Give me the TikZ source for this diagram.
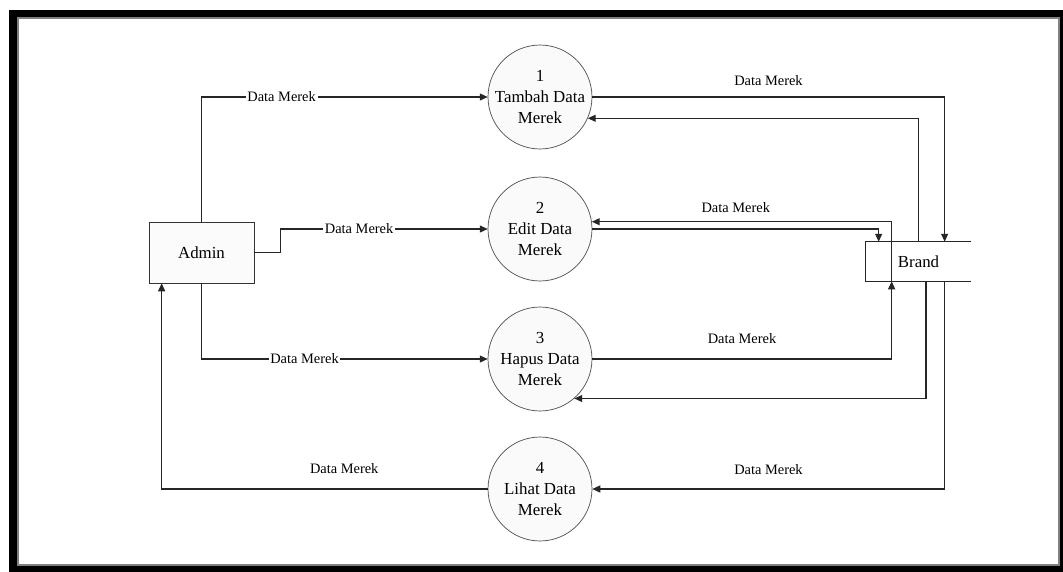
\documentclass[tikz,border=0pt]{standalone}
\usepackage{fontspec}
\setmainfont{Liberation Serif}
\usetikzlibrary{arrows.meta}

\begin{document}
\begin{tikzpicture}[x=0.02cm, y=-0.02cm,
    proc/.style={circle, draw=black!70, fill=gray!4, minimum size=2.08cm, inner sep=-2pt, align=center, font=\fontsize{9.6}{11.9}\selectfont},
    ent/.style={rectangle, draw=black!80, fill=gray!3, minimum width=2.1cm, minimum height=1.22cm, font=\fontsize{9.6}{11.9}\selectfont},
    store/.style={minimum width=2.1cm, minimum height=0.78cm, font=\fontsize{9.6}{11.9}\selectfont},
    flow/.style={draw=black!85, line width=0.6pt, -{Triangle[length=4.5pt, width=4pt]}},
    lbl/.style={font=\fontsize{8.2}{10}\selectfont, inner sep=1pt}]
    \useasboundingbox (0,0) rectangle (1063,572);
    \fill[black] (9,10) rectangle (1063,572);
    \fill[white] (17,17) rectangle (1060,566);
    \draw[gray, line width=1pt] (18,18) rectangle (1059,565);

    \node[ent] (admin) at (201.5,252.5) {Admin};
    \node[proc] (P1) at (540,97) {1\\Tambah Data\\Merek};
    \node[proc] (P2) at (540,229) {2\\Edit Data\\Merek};
    \node[proc] (P3) at (540,359) {3\\Hapus Data\\Merek};
    \node[proc] (P4) at (540,489) {4\\Lihat Data\\Merek};
    \node[store] (brand) at (918.5,261.5) {Brand};
    \draw[black!85, line width=0.6pt] (brand.north east) -- (brand.north west) -- (brand.south west) -- (brand.south east);

    % Draw the flows
    \draw[flow] (admin.north) |- node[lbl, fill=white, pos=0.64] {Data Merek} (P1.west);
    \draw[flow] (admin.east) -- ++(26,0) |- node[lbl, fill=white, pos=0.69] {Data Merek} (P2.west);
    \draw[flow] (admin.south) |- node[lbl, fill=white, pos=0.68] {Data Merek} (P3.west);
    \draw[flow] (P4.west) -| node[lbl, pos=0.22, yshift=0.4cm] {Data Merek} ([xshift=0.26cm]admin.south west);

    \draw[flow] (P1.east) -| node[lbl, pos=0.25, yshift=0.32cm] {Data Merek} ([xshift=1.58cm]brand.north west);
    \draw[flow] (brand.north) |- (P1.-24);
    \draw[flow] ([xshift=0.52cm]brand.south west) |- node[lbl, pos=0.76, yshift=0.28cm] {Data Merek} (P2.8);
    \draw[flow] (P2.east) -| ([xshift=0.26cm]brand.north west);
    \draw[flow] (P3.east) -| node[lbl, pos=0.25, yshift=0.4cm] {Data Merek} ([xshift=0.52cm]brand.south west);
    \draw[flow] ([xshift=0.15cm]brand.south) |- (P3.-49);
    \draw[flow] ([xshift=1.58cm]brand.south west) |- node[lbl, pos=0.75, yshift=0.38cm] {Data Merek} (P4.east);
\end{tikzpicture}
\end{document}
